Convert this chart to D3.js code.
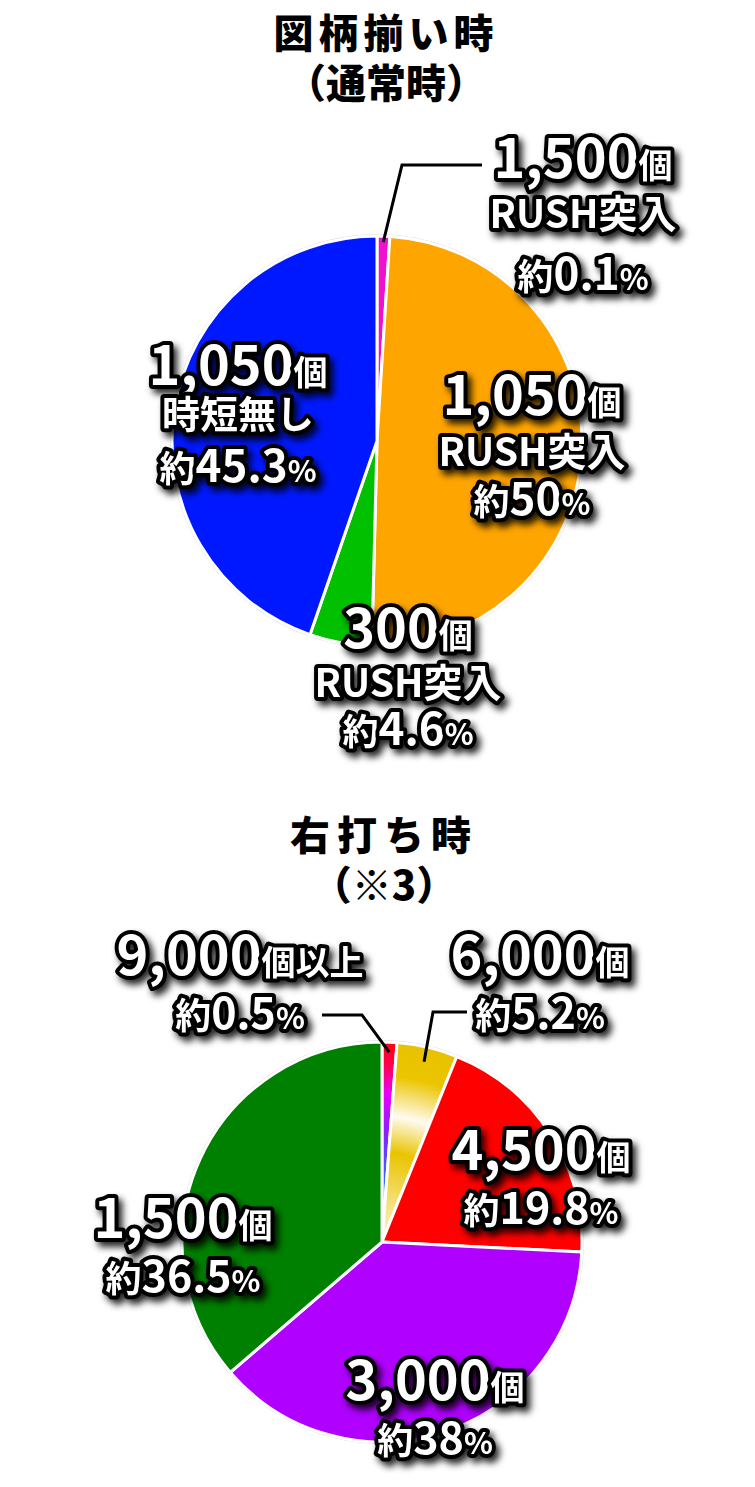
<!DOCTYPE html>
<html>
<head>
<meta charset="utf-8">
<script src="https://cdn.jsdelivr.net/npm/d3@7"></script>
<style>
body{margin:0;background:#fff;}
svg{display:block;}
</style>
</head>
<body>
<div id="chart"></div>
<script>
// top pie : 図柄揃い時（通常時）
var topCounts=["1,500","1,050","300","1,050"];
var topSubs=["RUSH突入","RUSH突入","RUSH突入","時短無し"];
var topPcts=["0.1","50","4.6","45.3"];
var topValues=[1.0,49.4,4.9,44.7];   // slice sizes as drawn
var topColors=["#f010d0","#ffa500","#00c000","#0018ff"];

// bottom pie : 右打ち時（※3）
var botCounts=["9,000","6,000","4,500","3,000","1,500"];
var botSuffix=["個以上","個","個","個","個"];
var botPcts=["0.5","5.2","19.8","38","36.5"];
var botValues=[1.2,4.9,19.7,37.9,36.3];
var botColors=["url(#gradTiny)","url(#gradGold)","#ff0000","#b000ff","#008000"];

var W=755,H=1487;
var font="'Noto Sans CJK JP','Noto Sans',sans-serif";

var svg=d3.select("#chart").append("svg")
	.attr("width",W)
	.attr("height",H);

var defs=svg.append("defs");

// soft black shadow behind the labels
var f=defs.append("filter").attr("id","shadow")
	.attr("x","-20%").attr("y","-30%").attr("width","150%").attr("height","180%");
f.append("feDropShadow")
	.attr("dx",4).attr("dy",5)
	.attr("stdDeviation",3.5)
	.attr("flood-color","#000")
	.attr("flood-opacity",0.85);

// gradient centred on the pie centre (paths live in a translated group)
function radialGrad(id,r,stops){
	var g=defs.append("radialGradient").attr("id",id)
		.attr("gradientUnits","userSpaceOnUse")
		.attr("cx",0).attr("cy",0).attr("r",r);
	stops.forEach(function(s){
		g.append("stop").attr("offset",s[0]).attr("stop-color",s[1]);
	});
}

// title
function title(lines,x,y0,size,spacing){
	lines.forEach(function(t,i){
		svg.append("text")
			.attr("x",x)
			.attr("y",y0+i*50)
			.attr("text-anchor","middle")
			.style("font-family",font)
			.style("font-weight","900")
			.style("font-size",size+"px")
			.style("letter-spacing",spacing[i]+"px")
			.style("fill","#000")
			.text(t);
	});
}

function drawPie(cx,cy,r,values,colors){
	var pie=d3.pie().sort(null).value(function(d){return d;});
	var arc=d3.arc().innerRadius(0).outerRadius(r);
	var g=svg.append("g").attr("transform","translate("+cx+","+cy+")");
	g.append("circle").attr("r",r+1.5)
		.style("fill","none").style("stroke","#dcdcdc").style("stroke-width",1);
	var arcs=pie(values);
	g.selectAll("path")
		.data(arcs)
		.enter()
		.append("path")
		.attr("d",arc)
		.style("fill",function(d,i){return colors[i];})
		.style("stroke","#fff")
		.style("stroke-width",3)
		.style("stroke-linejoin","round");
	return arcs;
}

// one label = several lines, each line = list of [text,size]
function label(x,y,lines){
	var g=svg.append("g").attr("filter","url(#shadow)");
	lines.forEach(function(line){
		var t=g.append("text")
			.attr("x",x)
			.attr("y",y+line.dy)
			.attr("text-anchor","middle")
			.style("font-family",font)
			.style("font-weight","700")
			.style("fill","#fff")
			.style("stroke","#000")
			.style("stroke-width",8)
			.style("stroke-linejoin","round")
			.style("paint-order","stroke");
		line.parts.forEach(function(p){
			t.append("tspan").style("font-size",p[1]+"px").text(p[0]);
		});
	});
}

// leader line from a slice to its label
function leader(cx,cy,d,rr,elbow,end){
	var a=(d.startAngle+d.endAngle)/2;
	var p=[cx+rr*Math.sin(a),cy-rr*Math.cos(a)];
	svg.append("path")
		.attr("d",d3.line()([p,elbow,end]))
		.style("fill","none")
		.style("stroke","#000")
		.style("stroke-width",3);
}

// ---------- top ----------
title(["図柄揃い時","（通常時）"],386,48,40,[5,0]);

var tcx=377,tcy=441,tr=205;
var tArcs=drawPie(tcx,tcy,tr,topValues,topColors);
leader(tcx,tcy,tArcs[0],tr-6,[402,165],[482,165]);

var topPos=[[206,-263,[0,50,112]],[155,-26,[0,51,100]],[31,207,[0,49,97]],[-139,-56,[0,43,97]]];
topCounts.forEach(function(c,i){
	var p=topPos[i];
	var subSize=topSubs[i]=="時短無し"?38:39;
	label(tcx+p[0],tcy+p[1],[
		{dy:p[2][0],parts:[[c,54],["個",34]]},
		{dy:p[2][1],parts:[[topSubs[i],subSize]]},
		{dy:p[2][2],parts:[["約",36],[topPcts[i],44],["%",30]]}
	]);
});

// ---------- bottom ----------
title(["右打ち時","（※3）"],384,850,40,[7,0]);

var bcx=382,bcy=1242,br=200;
radialGrad("gradGold",br,[[0,"#fdf6d6"],[0.2,"#f5e07a"],[0.45,"#e9c400"],[0.63,"#fffbf0"],[0.83,"#ebc500"],[1,"#e8c200"]]);
radialGrad("gradTiny",br,[[0,"#70d8ff"],[0.3,"#2a6cff"],[0.55,"#8a20ff"],[0.74,"#e800ff"],[0.88,"#ff0050"],[1,"#ff0010"]]);

var bArcs=drawPie(bcx,bcy,br,botValues,botColors);
leader(bcx,bcy,bArcs[0],br-10,[362,1015],[322,1015]);
leader(bcx,bcy,bArcs[1],br-15,[433,1012],[467,1012]);

var botPos=[[-142,-267,-5],[158,-267,0],[159,-72,0],[53,158,0],[-199,-4,0]];
botCounts.forEach(function(c,i){
	var p=botPos[i];
	label(bcx+p[0],bcy+p[1],[
		{dy:0,parts:[[c,54],[botSuffix[i],34]]},
		{dy:54,parts:[["約",36],[botPcts[i],43],["%",30]]}
	]);
});
</script>
</body>
</html>
